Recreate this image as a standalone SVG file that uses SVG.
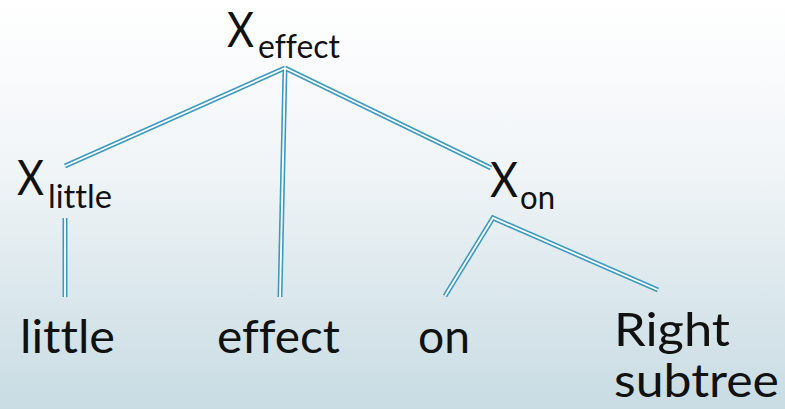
<svg xmlns="http://www.w3.org/2000/svg" width="785" height="409" viewBox="0 0 785 409">
<defs>
<linearGradient id="bg" x1="0" y1="0" x2="0" y2="1">
<stop offset="0" stop-color="#ffffff"/>
<stop offset="0.4" stop-color="#f1f5f7"/>
<stop offset="1" stop-color="#c8dce3"/>
</linearGradient>
<style>
.t{font-family:"Lato","Noto Sans","Liberation Sans",sans-serif;font-weight:400;fill:#111;font-variant-ligatures:none;font-feature-settings:"liga" 0;}
.big{font-size:48px;}
.sub{font-size:32px;}
.leaf{font-size:46px;}
.o{stroke:#3a9abf;stroke-width:5;fill:none;stroke-linecap:butt;}
.i{stroke:#ffffff;stroke-width:1.8;fill:none;stroke-linecap:butt;}
</style>
</defs>
<rect width="785" height="409" fill="url(#bg)"/>
<g id="connectors">
<g class="o">
<line x1="285" y1="68" x2="65" y2="166"/>
<line x1="285" y1="68" x2="280" y2="297"/>
<line x1="285" y1="68" x2="491" y2="168"/>
<line x1="65" y1="218" x2="65" y2="297"/>
<polyline points="445,296 493,218 658,290"/>
</g>
<g class="i">
<line x1="285" y1="68" x2="65" y2="166"/>
<line x1="285" y1="68" x2="280" y2="297"/>
<line x1="285" y1="68" x2="491" y2="168"/>
<line x1="65" y1="218" x2="65" y2="297"/>
<polyline points="445,296 493,218 658,290"/>
</g>
</g>
<g id="x-effect"><text class="t big" x="227" y="47" textLength="27" lengthAdjust="spacingAndGlyphs">X</text><text class="t sub" x="258" y="58" textLength="82" lengthAdjust="spacingAndGlyphs">effect</text></g>
<g id="x-little"><text class="t big" x="17" y="195" textLength="27" lengthAdjust="spacingAndGlyphs">X</text><text class="t sub" x="48" y="208" textLength="64" lengthAdjust="spacingAndGlyphs">little</text></g>
<g id="x-on"><text class="t big" x="490" y="197" textLength="28" lengthAdjust="spacingAndGlyphs">X</text><text class="t sub" x="520" y="209" textLength="35" lengthAdjust="spacingAndGlyphs">on</text></g>
<g id="leaf-little"><text class="t leaf" x="20" y="353" textLength="95" lengthAdjust="spacingAndGlyphs">little</text></g>
<g id="leaf-effect"><text class="t leaf" x="217" y="353" textLength="123" lengthAdjust="spacingAndGlyphs">effect</text></g>
<g id="leaf-on"><text class="t leaf" x="418" y="353" textLength="52" lengthAdjust="spacingAndGlyphs">on</text></g>
<g id="leaf-right"><text class="t leaf" x="614" y="346" textLength="116" lengthAdjust="spacingAndGlyphs">Right</text><text class="t leaf" x="614" y="397" textLength="165" lengthAdjust="spacingAndGlyphs">subtree</text></g>
</svg>
